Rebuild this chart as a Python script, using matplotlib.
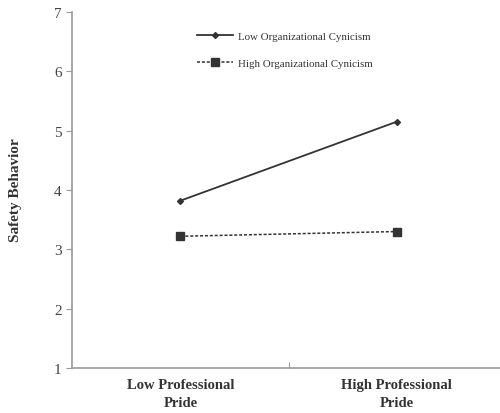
import matplotlib
matplotlib.use("Agg")
import matplotlib.pyplot as plt

# data
categories = ['Low Professional\nPride', 'High Professional\nPride']
low_cynicism = [3.82, 5.15]
high_cynicism = [3.22, 3.30]
yticks = [1, 2, 3, 4, 5, 6, 7]

plt.rcParams['font.family'] = ['Liberation Serif', 'DejaVu Serif']

fig = plt.figure(figsize=(5, 4.14), dpi=100)
ax = fig.add_axes([0.144, 0.1087, 0.86, 0.8599])

x = [1, 2]
ax.plot(x, low_cynicism, color='#333333', lw=1.3, marker='D', ms=3,
        label='Low Organizational Cynicism')
ax.plot(x, high_cynicism, color='#333333', lw=1.1, ls=(0, (2, 1.2)), marker='s', ms=5.5,
        label='High Organizational Cynicism')

ax.set_xlim(0.498, 2.488)
ax.set_ylim(1, 7)
ax.set_yticks(yticks)
ax.set_yticklabels([str(v) for v in yticks], fontsize=11, color='#444444')
ax.set_xticks([1.5])
ax.set_xticklabels([''])
ax.tick_params(axis='x', direction='in', length=4, color='#999999')
ax.tick_params(axis='y', direction='out', length=4, color='#999999')

for i, c in enumerate(categories):
    ax.text(x[i], -0.028, c, transform=ax.get_xaxis_transform(), ha='center', va='top',
            fontsize=10.5, fontweight='bold', color='#333333', linespacing=1.55)

ax.spines['top'].set_visible(False)
ax.spines['right'].set_visible(False)
for s in ('left', 'bottom'):
    ax.spines[s].set_color('#999999')
    ax.spines[s].set_linewidth(1.2)

fig.text(0.032, 0.54, 'Safety Behavior', rotation=90, ha='center', va='center',
         fontsize=11, fontweight='bold', color='#333333')

ax.legend(loc='upper left', bbox_to_anchor=(0.374, 0.945), bbox_transform=fig.transFigure,
          frameon=False, fontsize=7.8, handlelength=3.3, handletextpad=0.5,
          labelspacing=1.6, labelcolor='#333333')

fig.savefig('out.png', dpi=100)
